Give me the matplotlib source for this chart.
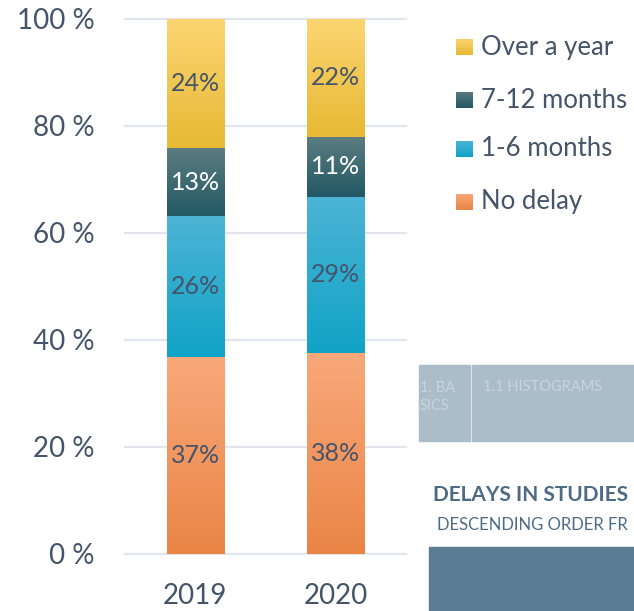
import numpy as np
from matplotlib import pyplot as plt
from matplotlib.colors import LinearSegmentedColormap
from matplotlib.patches import Rectangle

years = ['2019', '2020']
categories = ['No delay', '1-6 months', '7-12 months', 'Over a year']
no_delay = [36.8, 37.5]
one_six = [26.3, 29.2]
seven_twelve = [12.7, 11.2]
over_year = [24.2, 22.1]
labels_2019 = ['37%', '26%', '13%', '24%']
labels_2020 = ['38%', '29%', '11%', '22%']
yticks = [0, 20, 40, 60, 80, 100]

# (top colour, bottom colour) for each gradient
grads = [('#f9a87a', '#ea8546'),
         ('#4cb4d5', '#10a3c7'),
         ('#5b7c80', '#235965'),
         ('#fcd572', '#e7b934')]
label_col = ['#44546a', '#44546a', 'white', '#44546a']
txt = '#44546a'

plt.rcParams['font.family'] = ['Lato', 'DejaVu Sans']

fig = plt.figure(figsize=(6.34, 6.11), dpi=100)
ax = fig.add_axes([125/634, 1 - 553.7/611, 280.7/634, 535/611])

series = [no_delay, one_six, seven_twelve, over_year]
labels = [labels_2019, labels_2020]
width = 0.407


def grad_rect(a, x0, x1, y0, y1, c_top, c_bot, **kw):
    cmap = LinearSegmentedColormap.from_list('g', [c_bot, c_top])
    g = np.linspace(0, 1, 64).reshape(-1, 1)
    a.imshow(g, cmap=cmap, extent=[x0, x1, y0, y1], origin='lower',
             aspect='auto', zorder=2, interpolation='bilinear', **kw)


for i, yr in enumerate(years):
    bottom = 0
    for k, s in enumerate(series):
        v = s[i]
        grad_rect(ax, i - width/2, i + width/2, bottom, bottom + v, *grads[k])
        ax.text(i, bottom + v/2, labels[i][k], ha='center', va='center',
                fontsize=18, color=label_col[k], zorder=3)
        bottom += v

ax.set_xlim(-0.5, 1.5)
ax.set_ylim(0, 100)
ax.set_xticks(range(len(years)))
ax.set_xticklabels(years)
ax.set_yticks(yticks)
ax.set_yticklabels(['%d %%' % t for t in yticks])
ax.tick_params(length=0, labelsize=20, labelcolor=txt)
ax.tick_params(axis='y', pad=22)
ax.tick_params(axis='x', pad=21)
for sp in ax.spines.values():
    sp.set_visible(False)
for t in yticks:
    ax.axhline(t, color='#e1e5ee', lw=1.6, zorder=1, clip_on=False)

# legend, drawn by hand
leg_y = [47, 100, 149, 202]
for k in range(4):
    idx = 3 - k
    yc = leg_y[k]
    lax = fig.add_axes([456/634, 1 - (yc + 8.5)/611, 17/634, 17/611])
    grad_rect(lax, 0, 1, 0, 1, *grads[idx])
    lax.set_axis_off()
    fig.text(481/634, 1 - yc/611, categories[idx], ha='left', va='center',
             fontsize=18.5, color=txt)

# pieces of the slide behind the chart
fig.patches.append(Rectangle((419/634, 1 - 441/611), 51/634, 76/611,
                             transform=fig.transFigure, color='#abbdc9'))
fig.patches.append(Rectangle((472/634, 1 - 441/611), 200/634, 76/611,
                             transform=fig.transFigure, color='#abbdc9'))
fig.text(420/634, 1 - 397/611, '1. BA\nSICS', ha='left', va='center',
         fontsize=10.5, color='#c9d5dd', linespacing=1.3)
fig.text(483/634, 1 - 387/611, '1.1 HISTOGRAMS', ha='left', va='center',
         fontsize=10.5, color='#c9d5dd')
fig.text(433/634, 1 - 495/611, 'DELAYS IN STUDIES', ha='left', va='center',
         fontsize=15, color='#4e6b85', fontweight='bold')
fig.text(437/634, 1 - 525/611, 'DESCENDING ORDER FR', ha='left',
         va='center', fontsize=12, color='#4e6b85')
fig.patches.append(Rectangle((429/634, 0), 300/634, 64/611,
                             transform=fig.transFigure, color='#5b7d93'))

fig.savefig('out.png', dpi=100)
